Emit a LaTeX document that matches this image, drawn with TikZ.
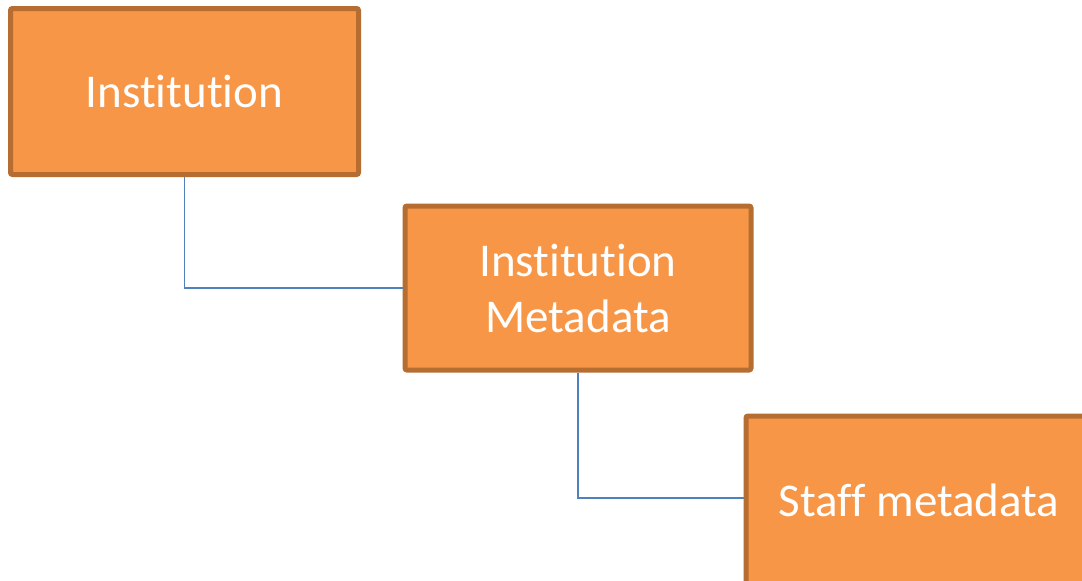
\documentclass[tikz,border=0pt]{standalone}
\usepackage{fontspec}
\setmainfont{Carlito}[Ligatures=NoCommon]
\definecolor{boxfill}{HTML}{F79646}
\definecolor{boxline}{HTML}{B66D31}
\definecolor{conn}{HTML}{4F81BD}
\begin{document}
\begin{tikzpicture}[x=1pt,y=-1pt,
  orgbox/.style={draw=boxline,fill=boxfill,line width=5pt,rounded corners=2pt,
    minimum width=346pt,minimum height=164pt,inner sep=0pt,text=white,
    font=\fontsize{47}{56}\selectfont,align=center},
  lbl/.style={text=white,font=\fontsize{47}{56}\selectfont,align=center,inner sep=0pt},
  link/.style={draw=conn,line width=1.5pt}]
\useasboundingbox (0,0) rectangle (1082,581);
\clip (0,0) rectangle (1082,581);
\node[orgbox,minimum width=348pt,minimum height=166pt] (b1) at (184.5,91.5) {Institution};
\node[orgbox] (b2) at (578,288) {Institution\\Metadata};
\node[orgbox,minimum height=188pt] (b3) at (919,510) {};
\node[lbl] (b3t) at (919,500) {Staff metadata};
\coordinate (b3in) at (b3.west |- 0,498);
\draw[link] (b1.south) |- (b2.west);
\draw[link] (b2.south) |- (b3in);
\end{tikzpicture}
\end{document}
